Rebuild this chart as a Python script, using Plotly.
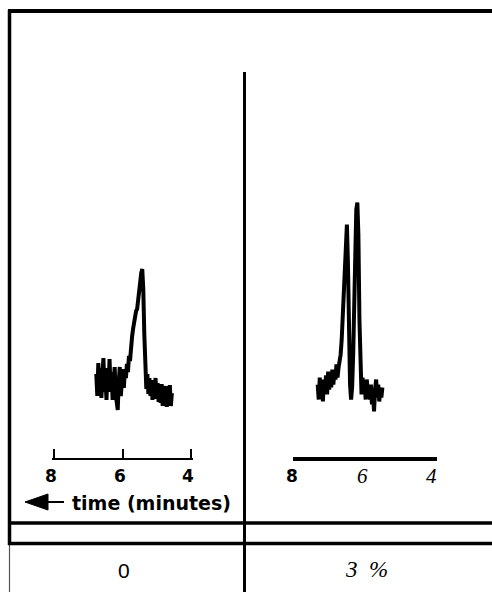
import plotly.graph_objects as go

# ---------------- data ----------------
tick_vals = [8, 6, 4]
tick_labels = ["8", "6", "4"]
axis_title = "time (minutes)"
concentrations = ["0", "3 %"]

# left chromatogram (0 %), time in minutes, detector signal (arbitrary units)
t_left = [6.77, 6.74, 6.71, 6.68, 6.65, 6.62, 6.59, 6.56, 6.53, 6.50,
          6.47, 6.44, 6.41, 6.38, 6.35, 6.32, 6.29, 6.26, 6.23, 6.20,
          6.17, 6.14, 6.11, 6.08, 6.05, 6.02, 5.99, 5.96, 5.93, 5.90,
          5.87, 5.84, 5.81, 5.78, 5.75, 5.72, 5.69, 5.66, 5.63, 5.60,
          5.57, 5.54, 5.51, 5.48, 5.45, 5.42, 5.39, 5.36, 5.33, 5.30,
          5.27, 5.24, 5.21, 5.18, 5.15, 5.12, 5.09, 5.06, 5.03, 5.00,
          4.97, 4.94, 4.91, 4.88, 4.85, 4.82, 4.79, 4.76, 4.73, 4.70,
          4.67, 4.64, 4.61, 4.58, 4.55]
s_left = [84, 62, 95, 70, 90, 60, 83, 100, 66, 80,
          58, 90, 71, 99, 66, 86, 58, 80, 91, 64,
          55, 48, 76, 91, 62, 83, 89, 70, 88, 80,
          94, 86, 102, 97, 113, 121, 129, 137, 139, 147,
          149, 161, 167, 177, 185, 189, 169, 124, 81, 69,
          84, 64, 80, 62, 78, 58, 76, 64, 80, 59,
          75, 56, 72, 55, 74, 52, 70, 57, 72, 51,
          70, 55, 73, 52, 65]

# right chromatogram (3 %)
t_right = [7.36, 7.33, 7.30, 7.27, 7.24, 7.21, 7.18, 7.15, 7.12, 7.09,
           7.06, 7.03, 7.00, 6.97, 6.94, 6.91, 6.88, 6.85, 6.82, 6.79,
           6.76, 6.73, 6.70, 6.67, 6.64, 6.61, 6.58, 6.55, 6.52, 6.49,
           6.46, 6.43, 6.40, 6.37, 6.34, 6.31, 6.28, 6.25, 6.22, 6.19,
           6.16, 6.13, 6.10, 6.07, 6.04, 6.01, 5.98, 5.95, 5.92, 5.89,
           5.86, 5.83, 5.80, 5.77, 5.74, 5.71, 5.68, 5.65, 5.62, 5.59,
           5.56, 5.53, 5.50]
s_right = [72, 57, 79, 62, 75, 55, 77, 65, 81, 62,
           85, 67, 82, 69, 87, 72, 85, 77, 92, 79,
           89, 95, 102, 117, 142, 172, 202, 227, 232, 192,
           122, 72, 57, 69, 102, 157, 212, 247, 254, 222,
           137, 77, 62, 79, 62, 72, 57, 77, 65, 71,
           57, 72, 52, 62, 45, 67, 77, 59, 72, 55,
           67, 59, 69]

# ---------------- layout helpers (pixel -> paper) ----------------
W, H = 492, 592


def X(px):
    return px / W


def Y(py):
    return 1 - py / H


fig = go.Figure()
fig.add_trace(go.Scatter(x=t_left, y=s_left, mode="lines",
                         line=dict(color="black", width=4),
                         xaxis="x", yaxis="y", showlegend=False,
                         hoverinfo="skip"))
fig.add_trace(go.Scatter(x=t_right, y=s_right, mode="lines",
                         line=dict(color="black", width=4),
                         xaxis="x2", yaxis="y2", showlegend=False,
                         hoverinfo="skip"))

common_x = dict(range=[8.07, 3.93], showgrid=False, zeroline=False,
                showticklabels=False, linecolor="black", mirror=False,
                fixedrange=True)

layout = dict(
    width=W, height=H,
    margin=dict(l=0, r=0, t=0, b=0),
    paper_bgcolor="white", plot_bgcolor="rgba(0,0,0,0)",
    showlegend=False,
    xaxis=dict(domain=[X(52), X(193)], anchor="y", showline=True,
               linewidth=2, ticks="inside", ticklen=9, tickwidth=2,
               tickcolor="black", tickvals=tick_vals, **common_x),
    yaxis=dict(domain=[Y(458), Y(158)], range=[0, 300], visible=False,
               fixedrange=True),
    xaxis2=dict(domain=[X(293), X(437)], anchor="y2", showline=True,
                linewidth=4, ticks="", **common_x),
    yaxis2=dict(domain=[Y(456.5), Y(156.5)], range=[0, 300], visible=False,
                fixedrange=True),
)
fig.update_layout(**layout)

# frame / table rules
shapes = []


def hline(py, x0, x1, w, color="black"):
    shapes.append(dict(type="line", xref="paper", yref="paper",
                       x0=X(x0), x1=X(x1), y0=Y(py), y1=Y(py),
                       line=dict(color=color, width=w)))


def vline(px, y0, y1, w, color="black"):
    shapes.append(dict(type="line", xref="paper", yref="paper",
                       x0=X(px), x1=X(px), y0=Y(y0), y1=Y(y1),
                       line=dict(color=color, width=w)))


hline(11, 8, 492, 4)
vline(9.5, 10, 545, 3.5)
vline(9.5, 545, 592, 1.2, "#555555")
vline(244.5, 72, 592, 3)
hline(523, 8, 492, 3.5)
hline(543.5, 8, 492, 3.5)

# arrow pointing to increasing time (left)
tip_x, tip_y = 25, 502
path = (f"M {X(tip_x)},{Y(tip_y)} L {X(48)},{Y(tip_y - 8)} "
        f"L {X(48)},{Y(tip_y + 8)} Z")
shapes.append(dict(type="path", xref="paper", yref="paper", path=path,
                   fillcolor="black", line=dict(color="black", width=1)))
hline(tip_y, 35, 48, 5)
hline(tip_y, 48, 64, 2)

fig.update_layout(shapes=shapes)

annotations = []
sans_bold = dict(family="DejaVu Sans", size=17, color="black", weight="bold")
serif_it = dict(family="Liberation Serif", size=21, color="black",
                style="italic")

for v, lab in zip(tick_vals, tick_labels):
    annotations.append(dict(x=v, xref="x", y=Y(476), yref="paper",
                            text=lab, showarrow=False, xshift=-3,
                            xanchor="center", yanchor="middle",
                            font=sans_bold))

right_fonts = [sans_bold, serif_it, serif_it]
for v, lab, f in zip(tick_vals, tick_labels, right_fonts):
    annotations.append(dict(x=v, xref="x2", y=Y(476), yref="paper",
                            text=lab, showarrow=False, xshift=-3,
                            xanchor="center", yanchor="middle", font=f))

annotations.append(dict(x=X(151), xref="paper", y=Y(503), yref="paper",
                        text=axis_title, showarrow=False,
                        xanchor="center", yanchor="middle",
                        font=dict(family="DejaVu Sans", size=19,
                                  color="black", weight=800)))

annotations.append(dict(x=X(124), xref="paper", y=Y(570), yref="paper",
                        text=concentrations[0], showarrow=False,
                        xanchor="center", yanchor="middle",
                        font=dict(family="Liberation Sans Narrow, Liberation Sans",
                                  size=21, color="black")))
annotations.append(dict(x=X(366), xref="paper", y=Y(569), yref="paper",
                        text=concentrations[1].replace(" ", "&nbsp; "),
                        showarrow=False,
                        xanchor="center", yanchor="middle",
                        font=dict(family="Liberation Serif", size=23,
                                  color="black", style="italic")))

fig.update_layout(annotations=annotations)

fig.write_html("out.html", config=dict(displayModeBar=False),
               post_script="document.body.style.margin='0';"
                           "document.body.style.padding='0';")
